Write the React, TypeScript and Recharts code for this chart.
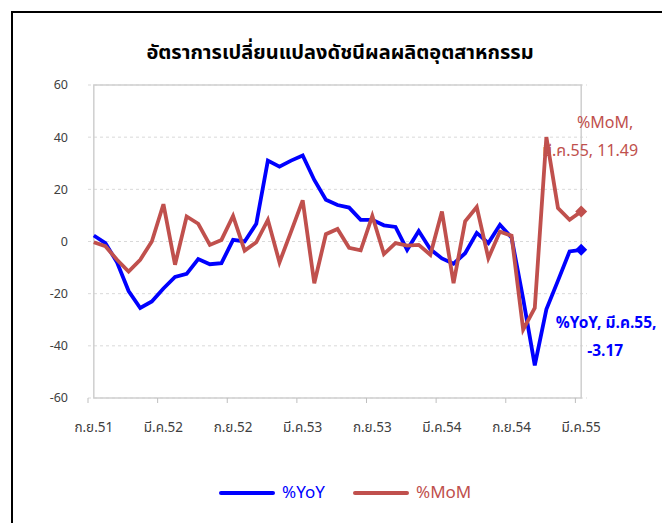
import { LineChart, Line, XAxis, YAxis, CartesianGrid, ReferenceArea } from 'recharts';

const months = [
  'ก.ย.51', 'ต.ค.51', 'พ.ย.51', 'ธ.ค.51', 'ม.ค.52', 'ก.พ.52', 'มี.ค.52', 'เม.ย.52', 'พ.ค.52', 'มิ.ย.52', 'ก.ค.52', 'ส.ค.52',
  'ก.ย.52', 'ต.ค.52', 'พ.ย.52', 'ธ.ค.52', 'ม.ค.53', 'ก.พ.53', 'มี.ค.53', 'เม.ย.53', 'พ.ค.53', 'มิ.ย.53', 'ก.ค.53', 'ส.ค.53',
  'ก.ย.53', 'ต.ค.53', 'พ.ย.53', 'ธ.ค.53', 'ม.ค.54', 'ก.พ.54', 'มี.ค.54', 'เม.ย.54', 'พ.ค.54', 'มิ.ย.54', 'ก.ค.54', 'ส.ค.54',
  'ก.ย.54', 'ต.ค.54', 'พ.ย.54', 'ธ.ค.54', 'ม.ค.55', 'ก.พ.55', 'มี.ค.55',
];

const yoy = [
  2.3, -0.6, -8, -19, -25.5, -23, -18, -13.6, -12.4, -6.7, -8.7, -8.3,
  0.6, 0, 6.8, 31, 28.7, 31, 33, 23.6, 16, 14, 13, 8.3,
  8.3, 6.2, 5.6, -3.2, 4, -3, -6.5, -8.5, -4.5, 3.3, -0.6, 6.4,
  1.5, -22, -47.5, -26, -15, -3.8, -3.17,
];

const mom = [
  -0.3, -1.8, -7, -11.5, -7, 0, 14.3, -8.9, 9.6, 6.8, -1.3, 0.6,
  9.8, -3.5, -0.3, 8.3, -8, 3.8, 15.8, -16, 2.8, 4.8, -2.4, -3.4,
  9.8, -4.8, -0.6, -1.6, -1.3, -5.1, 11.5, -16, 7.7, 13.2, -6.4, 3.8,
  2.2, -33.8, -25.5, 40, 12.8, 8.3, 11.49,
];

const yTicks = [-60, -40, -20, 0, 20, 40, 60];

const YOY_COLOR = '#0000ff';
const MOM_COLOR = '#c0504d';
const FONT = "Tahoma, 'Noto Sans Thai', 'DejaVu Sans', sans-serif";

const W = 662;
const H = 523;
const PLOT = { left: 88, right: 587, top: 85, bottom: 398 };
const half = (PLOT.right - PLOT.left) / months.length / 2;
const last = months.length - 1;

const data = months.map((m, i) => ({ m, yoy: yoy[i], mom: mom[i] }));

function XTick(props: any) {
  const { x, payload } = props;
  return (
    <g>
      <line x1={x - half} y1={PLOT.bottom} x2={x - half} y2={PLOT.bottom + 5} stroke="#bfbfbf" />
      <text x={x} y={PLOT.bottom + 34} textAnchor="middle" fill="#404040" fontSize={13.5} fontFamily={FONT}>
        {payload.value}
      </text>
    </g>
  );
}

function diamond(color: string) {
  return (props: any) => {
    const { cx, cy, index } = props;
    if (index !== last) return <g key={index} />;
    const s = 6;
    return (
      <polygon key={index} points={`${cx},${cy - s} ${cx + s},${cy} ${cx},${cy + s} ${cx - s},${cy}`} fill={color} />
    );
  };
}

function momLabel(props: any) {
  const { x, y, index, value } = props;
  if (index !== last) return null;
  return (
    <text fill={MOM_COLOR} fontSize={16} fontFamily={FONT}>
      <tspan x={x + 24} y={y - 84} textAnchor="middle">%MoM,</tspan>
      <tspan x={x + 9} y={y - 56} textAnchor="middle">{`${months[index]}, ${value}`}</tspan>
    </text>
  );
}

function yoyLabel(props: any) {
  const { x, y, index, value } = props;
  if (index !== last) return null;
  return (
    <text fill={YOY_COLOR} fontSize={15.5} fontWeight="bold" fontFamily={FONT}>
      <tspan x={x + 25} y={y + 78} textAnchor="middle">{`%YoY, ${months[index]},`}</tspan>
      <tspan x={x + 24} y={y + 106} textAnchor="middle">{value}</tspan>
    </text>
  );
}

const legendItems = [
  { name: '%YoY', color: YOY_COLOR, left: 219 },
  { name: '%MoM', color: MOM_COLOR, left: 353 },
];

export default function App() {
  return (
    <div style={{ position: 'absolute', left: 0, top: 0, width: W, height: H, overflow: 'hidden', background: '#fff' }}>
      <div style={{ position: 'absolute', left: 11, top: 11, width: 700, height: 600, border: '2px solid #000', boxSizing: 'border-box' }} />
      <div style={{ position: 'absolute', left: 0, top: 38, width: 680, textAlign: 'center', fontFamily: FONT, fontSize: 20, fontWeight: 'bold', color: '#000' }}>
        อัตราการเปลี่ยนแปลงดัชนีผลผลิตอุตสาหกรรม
      </div>
      <div style={{ position: 'absolute', left: 0, top: 0 }}>
        <LineChart width={W} height={H} data={data} margin={{ top: PLOT.top, right: W - PLOT.right, left: PLOT.left - 40, bottom: H - PLOT.bottom - 30 }}>
          <CartesianGrid vertical={false} stroke="#d9d9d9" strokeDasharray="3 3" />
          <ReferenceArea y1={-60} y2={60} fill="none" stroke="#cfcfcf" strokeWidth={1.5} ifOverflow="visible" />
          <XAxis dataKey="m" interval={5} padding={{ left: half, right: half }} tickLine={false} axisLine={false} tick={<XTick />} height={30} />
          <YAxis
            domain={[-60, 60]}
            ticks={yTicks}
            width={40}
            tickLine={false}
            axisLine={false}
            tickSize={6}
            tickMargin={14}
            tick={{ fill: '#404040', fontSize: 12.5, fontFamily: FONT }}
          />
          <Line dataKey="yoy" stroke={YOY_COLOR} strokeWidth={3.8} dot={diamond(YOY_COLOR)} activeDot={false} isAnimationActive={false} label={yoyLabel} />
          <Line dataKey="mom" stroke={MOM_COLOR} strokeWidth={3.8} dot={diamond(MOM_COLOR)} activeDot={false} isAnimationActive={false} label={momLabel} />
        </LineChart>
      </div>
      {legendItems.map(it => (
        <div key={it.name} style={{ position: 'absolute', left: it.left, top: 480, display: 'flex', alignItems: 'center', fontFamily: FONT, fontSize: 17, color: it.color }}>
          <span style={{ display: 'inline-block', width: 56, height: 4, background: it.color, borderRadius: 2, marginRight: 7 }} />
          {it.name}
        </div>
      ))}
    </div>
  );
}
